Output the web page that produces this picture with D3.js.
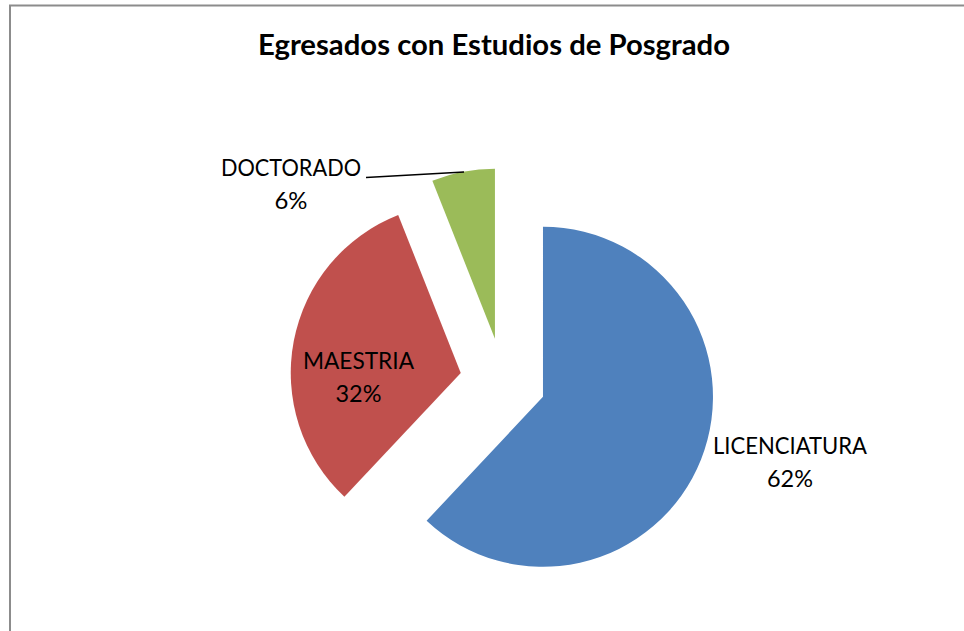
<!DOCTYPE html>
<html><head><meta charset="utf-8">
<script src="https://cdn.jsdelivr.net/npm/d3@7"></script>
<style>body{margin:0;background:#fff}svg{display:block}</style>
</head><body>
<script>
const categories = ["LICENCIATURA", "MAESTRIA", "DOCTORADO"];
const values = [62, 32, 6];
const percentLabels = ["62%", "32%", "6%"];
const colors = ["#4F81BD", "#C0504D", "#9BBB59"];
const title = "Egresados con Estudios de Posgrado";

const W = 964, H = 631;
const svg = d3.select("body").append("svg").attr("width", W).attr("height", H);

// chart frame
svg.append("path").attr("d", `M10,${H+5} L10,5.5 L${W+5},5.5`)
  .attr("fill", "none").attr("stroke", "#8c8c8c").attr("stroke-width", 2);

const FONT = "Lato, 'Noto Sans', sans-serif";

function fitText(sel, targetWidth) {
  sel.attr("textLength", targetWidth).attr("lengthAdjust", "spacingAndGlyphs");
}

const t = svg.append("text").attr("x", 494).attr("y", 55).attr("text-anchor", "middle")
  .attr("font-family", FONT).attr("font-weight", "bold").attr("font-size", 29)
  .attr("fill", "#000").text(title);
fitText(t, 472);

const cx = 503, cy = 381, R = 170, explode = 43;
const pie = d3.pie().sort(null).value(d => d.v).startAngle(0).endAngle(2 * Math.PI);
const data = categories.map((c, i) => ({ c, v: values[i], p: percentLabels[i], col: colors[i] }));
const arcs = pie(data);
const arc = d3.arc().innerRadius(0).outerRadius(R);

const g = svg.append("g").attr("transform", `translate(${cx},${cy})`);
g.selectAll("path").data(arcs).join("path")
  .attr("d", arc)
  .attr("fill", d => d.data.col)
  .attr("transform", d => {
    const a = (d.startAngle + d.endAngle) / 2;
    return `translate(${explode * Math.sin(a)},${-explode * Math.cos(a)})`;
  });

// label layout (center x, first baseline y, target widths)
const labelLayout = {
  "LICENCIATURA": { x: 790, y: 454, w: 154, pw: 46 },
  "MAESTRIA": { x: 358.5, y: 369, w: 111, pw: 46 },
  "DOCTORADO": { x: 291, y: 176, w: 140, pw: 33 }
};
const FS = 22.5;
arcs.forEach(d => {
  const L = labelLayout[d.data.c];
  const t1 = svg.append("text").attr("x", L.x).attr("y", L.y).attr("text-anchor", "middle")
    .attr("font-family", FONT).attr("font-size", FS).attr("fill", "#000").text(d.data.c);
  fitText(t1, L.w);
  const t2 = svg.append("text").attr("x", L.x).attr("y", L.y + 33).attr("text-anchor", "middle")
    .attr("font-family", FONT).attr("font-size", FS).attr("fill", "#000").text(d.data.p);
  fitText(t2, L.pw);
});

// leader line for DOCTORADO
svg.append("path").attr("d", "M366,177.5 L464,172").attr("stroke", "#000")
  .attr("stroke-width", 1.5).attr("fill", "none");
</script>
</body></html>
